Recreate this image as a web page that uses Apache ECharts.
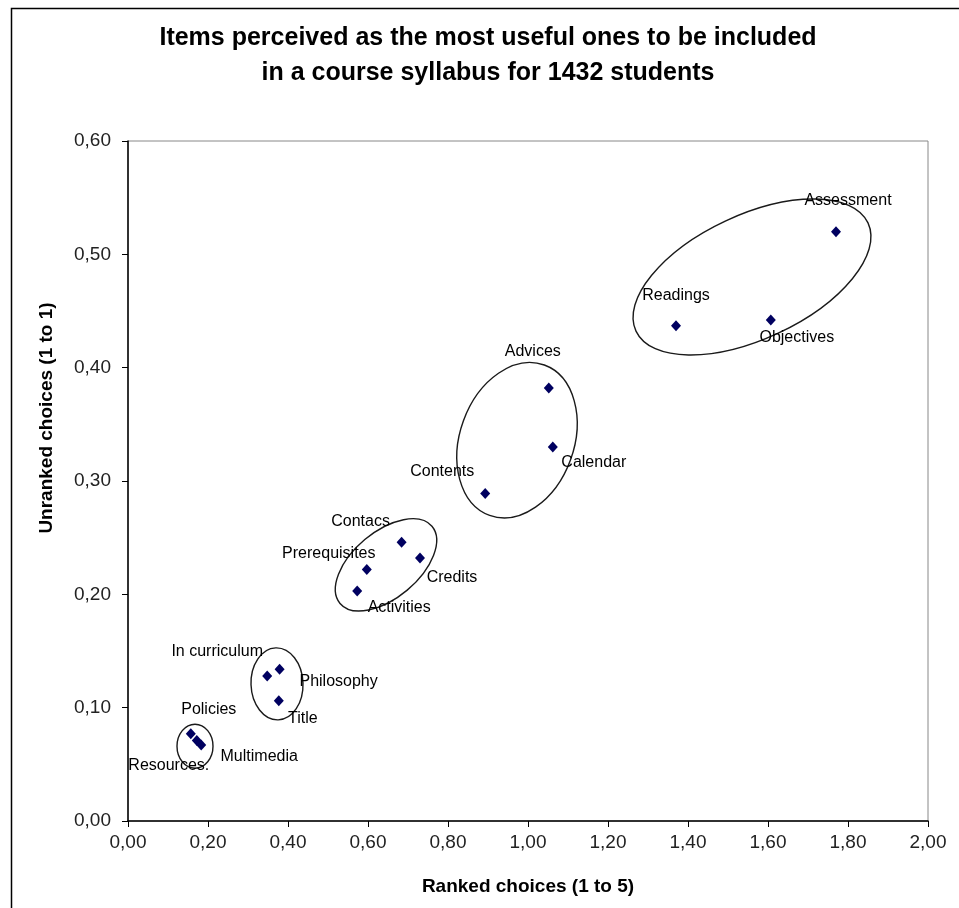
<!DOCTYPE html>
<html>
<head>
<meta charset="utf-8">
<script src="https://cdn.jsdelivr.net/npm/echarts@6/dist/echarts.min.js"></script>
<style>
html,body{margin:0;padding:0;background:#fff;}
#chart{width:959px;height:908px;}
</style>
</head>
<body>
<div id="chart"></div>
<script>
// ---- data ----
const itemNames = ["Assessment","Readings","Objectives","Advices","Calendar","Contents","Contacs","Credits","Prerequisites","Activities","In curriculum","Philosophy","Title","Policies","Resources.","Multimedia"];
const rankedChoices = [1.77,1.37,1.607,1.052,1.062,0.893,0.684,0.730,0.597,0.573,0.348,0.379,0.377,0.157,0.172,0.183];
const unrankedChoices = [0.520,0.437,0.442,0.382,0.330,0.289,0.246,0.232,0.222,0.203,0.128,0.134,0.106,0.077,0.071,0.067];
// group outlines (centres in data units)
const groupCentreX = [1.56,0.9725,0.645,0.3725,0.1675];
const groupCentreY = [0.48,0.336,0.226,0.121,0.066];
const xTicks = {min:0,max:2,interval:0.2};
const yTicks = {min:0,max:0.6,interval:0.1};
const titleText = "Items perceived as the most useful ones to be included\nin a course syllabus for 1432 students";
const xTitle = "Ranked choices (1 to 5)";
const yTitle = "Unranked choices (1 to 1)";

// ---- styles (label placement, outline shapes) ----
const labelOffsets = [[12,-31],[0,-30],[26,18],[-16,-36],[41,16],[-43,-22],[-41,-21],[32,20],[-38,-16],[42,17],[-50,-24],[59,12],[24,18],[18,-24],[-28,25],[58,12]];
const outlineShapes = [
  {rx:128,ry:62,angle:25},
  {rx:80,ry:57,angle:70},
  {rx:60,ry:33,angle:40},
  {rx:36,ry:26,angle:92},
  {rx:22,ry:18,angle:90}
];

const fmt = v => v.toFixed(2).replace('.', ',');

const chart = echarts.init(document.getElementById('chart'), null, {renderer:'canvas'});
const scatterData = itemNames.map((n,i)=>({
  value:[rankedChoices[i], unrankedChoices[i]],
  name:n,
  label:{offset:labelOffsets[i]}
}));
const outlineData = groupCentreX.map((x,i)=>[x, groupCentreY[i]]);

chart.setOption({
  animation:false,
  backgroundColor:'#fff',
  title:{
    text:titleText,
    left:483, top:16, textAlign:'center',
    textStyle:{fontFamily:'Liberation Sans', fontWeight:'bold', fontSize:25, lineHeight:35, color:'#000'}
  },
  graphic:[
    {
      type:'rect', left:9, top:6, silent:true, z:-10,
      shape:{x:0,y:0,width:1000,height:1000},
      style:{fill:'none', stroke:'#000', lineWidth:1.5}
    },
    {
      type:'text', x:47, y:418, rotation:Math.PI/2, silent:true,
      style:{text:yTitle, fill:'#000', font:"bold 19px 'Liberation Sans'", align:'center', verticalAlign:'middle'}
    }
  ],
  grid:{left:128, right:31, top:141, bottom:87, show:true, borderColor:'#888', borderWidth:1, backgroundColor:'transparent'},
  xAxis:{
    type:'value', min:xTicks.min, max:xTicks.max, interval:xTicks.interval,
    name:xTitle, nameLocation:'middle', nameGap:56,
    nameTextStyle:{fontFamily:'Liberation Sans', fontWeight:'bold', fontSize:19, color:'#000'},
    axisLine:{show:true, onZero:false, lineStyle:{color:'#000', width:1.5}},
    axisTick:{show:true, inside:false, length:6, lineStyle:{color:'#000'}},
    splitLine:{show:false},
    axisLabel:{formatter:fmt, margin:12, fontFamily:'Liberation Sans', fontSize:19, color:'#222'}
  },
  yAxis:{
    type:'value', min:yTicks.min, max:yTicks.max, interval:yTicks.interval,
    axisLine:{show:true, onZero:false, lineStyle:{color:'#000', width:1.5}},
    axisTick:{show:true, inside:false, length:6, lineStyle:{color:'#000'}},
    splitLine:{show:false},
    axisLabel:{formatter:fmt, margin:17, fontFamily:'Liberation Sans', fontSize:19, color:'#222'}
  },
  series:[
    {
      type:'custom', silent:true, z:2, clip:false,
      data:outlineData,
      renderItem:function(params, api){
        const p = api.coord([api.value(0), api.value(1)]);
        const s = outlineShapes[params.dataIndex];
        return {
          type:'ellipse', x:p[0], y:p[1], rotation:s.angle*Math.PI/180,
          shape:{cx:0, cy:0, rx:s.rx, ry:s.ry},
          style:{fill:'none', stroke:'#1a1a1a', lineWidth:1.4}
        };
      }
    },
    {
      type:'scatter', z:3,
      symbol:'diamond', symbolSize:[10,11],
      itemStyle:{color:'#000060', opacity:1},
      label:{show:true, position:'inside', formatter:'{b}', fontFamily:'Liberation Sans', fontSize:16, color:'#000'},
      emphasis:{disabled:true},
      data:scatterData
    }
  ]
});
</script>
</body>
</html>
